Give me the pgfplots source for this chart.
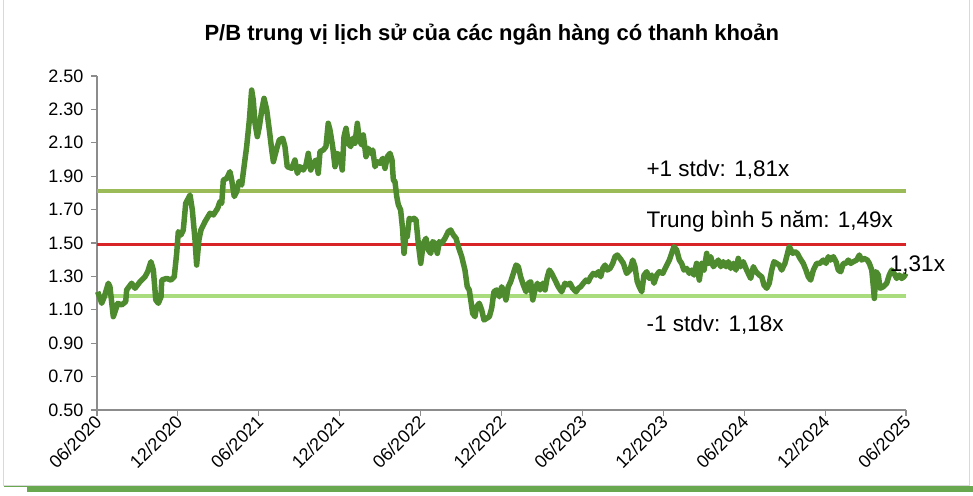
\documentclass[border=0pt]{standalone}
\usepackage{pgfplots}
\pgfplotsset{compat=1.18}
\usepackage{fontspec}
\setmainfont{Liberation Sans}

\definecolor{series}{HTML}{4E8B2E}
\definecolor{upper}{HTML}{9BBB59}
\definecolor{lower}{HTML}{A9DC7C}
\definecolor{mean}{HTML}{D92427}
\definecolor{frame}{HTML}{D9D9D9}
\definecolor{bar}{HTML}{6AA84F}

\begin{document}
\begin{tikzpicture}
\begin{axis}[
  scale only axis,
  width=809bp, height=334bp,
  xmin=0, xmax=60,
  ymin=0.5, ymax=2.5,
  clip=false,
  axis x line*=bottom,
  axis y line*=left,
  axis line style={draw=gray!90, line width=1.4bp},
  tick style={draw=gray!90, line width=1.2bp},
  tick align=outside,
  major tick length=6bp,
  xtick={0,6,...,60},
  xticklabels={06/2020,12/2020,06/2021,12/2021,06/2022,12/2022,06/2023,12/2023,06/2024,12/2024,06/2025},
  ytick={0.5,0.7,0.9,1.1,1.3,1.5,1.7,1.9,2.1,2.3,2.5},
  tick label style={font=\fontsize{18bp}{20bp}\selectfont},
  xticklabel style={rotate=45, anchor=east, yshift=-3bp, xshift=2bp},
  yticklabel style={xshift=-4bp, /pgf/number format/.cd, fixed, fixed zerofill, precision=2, assume math mode=true},
]
% mean and +/- 1 stdev
\addplot[upper, line width=4bp] coordinates {(0,1.81) (60,1.81)};
\addplot[mean, line width=3bp] coordinates {(0,1.49) (60,1.49)};
\addplot[lower, line width=4bp] coordinates {(0,1.18) (60,1.18)};

% median P/B, months since 06/2020
\addplot[series, line width=5.5bp, line join=round] table {
x y
0.05 1.208
0.35 1.139
0.54 1.178
0.84 1.259
0.96 1.238
1.21 1.059
1.54 1.139
1.83 1.129
2.13 1.149
2.20 1.219
2.57 1.259
2.82 1.229
3.19 1.268
3.56 1.298
3.76 1.328
4.00 1.388
4.18 1.338
4.36 1.159
4.55 1.139
4.75 1.178
4.80 1.278
5.17 1.288
5.49 1.278
5.73 1.298
5.91 1.438
6.03 1.568
6.23 1.548
6.40 1.578
6.58 1.738
6.90 1.787
7.07 1.698
7.27 1.518
7.39 1.368
7.56 1.518
7.71 1.578
8.01 1.628
8.38 1.678
8.63 1.668
8.95 1.708
9.12 1.748
9.25 1.738
9.37 1.877
9.62 1.887
9.86 1.927
9.99 1.877
10.18 1.778
10.36 1.808
10.53 1.868
10.73 1.847
10.97 1.997
11.10 2.077
11.30 2.237
11.47 2.416
11.59 2.356
11.72 2.217
11.89 2.137
12.04 2.196
12.22 2.296
12.39 2.366
12.59 2.296
12.78 2.177
12.96 2.057
13.08 1.987
13.37 2.077
13.52 2.117
13.77 2.127
13.94 2.077
14.11 1.957
14.44 1.947
14.68 1.997
14.86 1.917
15.06 1.957
15.30 1.937
15.50 1.967
15.67 2.037
15.85 1.937
16.04 1.977
16.24 1.997
16.41 1.917
16.54 2.047
16.78 2.057
16.98 2.077
17.15 2.217
17.28 2.177
17.48 2.077
17.65 1.957
17.82 2.037
18.02 2.017
18.19 1.937
18.32 2.137
18.47 2.187
18.64 2.097
18.82 2.077
18.96 2.127
19.13 2.097
19.31 2.217
19.45 2.117
19.63 2.087
19.75 2.147
19.95 2.017
20.12 2.067
20.30 2.037
20.45 2.057
20.62 1.957
20.79 1.987
20.99 1.977
21.19 2.007
21.36 1.947
21.53 2.017
21.73 2.037
21.88 1.997
21.98 1.877
22.10 1.868
22.23 1.778
22.35 1.728
22.52 1.698
22.67 1.578
22.77 1.438
22.92 1.558
23.01 1.538
23.16 1.648
23.34 1.638
23.51 1.648
23.66 1.638
23.83 1.498
24.01 1.378
24.20 1.498
24.40 1.528
24.57 1.458
24.75 1.438
24.90 1.508
25.07 1.498
25.24 1.438
25.39 1.508
25.56 1.498
25.81 1.528
26.05 1.568
26.23 1.578
26.43 1.548
26.63 1.528
26.80 1.478
27.05 1.418
27.29 1.338
27.46 1.238
27.61 1.219
27.72 1.159
27.86 1.079
28.03 1.059
28.16 1.119
28.35 1.139
28.53 1.099
28.70 1.039
28.90 1.049
29.10 1.059
29.27 1.109
29.44 1.208
29.64 1.219
29.84 1.178
30.01 1.238
30.19 1.208
30.33 1.159
30.50 1.238
30.68 1.268
30.88 1.318
31.08 1.368
31.25 1.358
31.42 1.298
31.62 1.248
31.82 1.208
31.99 1.259
32.17 1.268
32.32 1.159
32.48 1.219
32.66 1.259
32.86 1.219
33.06 1.259
33.23 1.219
33.40 1.298
33.55 1.338
33.72 1.318
33.97 1.278
34.21 1.238
34.46 1.208
34.71 1.259
34.88 1.248
35.08 1.259
35.28 1.229
35.53 1.208
35.70 1.229
35.87 1.238
36.07 1.259
36.27 1.278
36.44 1.268
36.62 1.298
36.81 1.318
37.01 1.308
37.18 1.328
37.36 1.298
37.51 1.348
37.68 1.368
37.85 1.338
38.05 1.348
38.25 1.378
38.42 1.418
38.59 1.428
38.79 1.408
39.04 1.378
39.28 1.318
39.53 1.338
39.73 1.398
39.90 1.358
40.07 1.268
40.22 1.238
40.40 1.208
40.57 1.308
40.77 1.328
40.96 1.288
41.14 1.308
41.31 1.259
41.51 1.308
41.70 1.328
41.96 1.318
42.20 1.358
42.45 1.398
42.62 1.438
42.79 1.478
42.99 1.458
43.19 1.398
43.36 1.378
43.53 1.338
43.73 1.348
43.93 1.318
44.10 1.338
44.27 1.308
44.47 1.378
44.67 1.278
44.85 1.378
45.02 1.338
45.22 1.438
45.34 1.378
45.52 1.418
45.71 1.358
45.91 1.378
46.08 1.398
46.26 1.358
46.45 1.388
46.65 1.358
46.82 1.388
47.00 1.348
47.19 1.378
47.39 1.338
47.56 1.408
47.74 1.358
47.93 1.388
48.13 1.348
48.30 1.318
48.48 1.288
48.68 1.358
48.87 1.328
49.12 1.308
49.30 1.298
49.47 1.248
49.67 1.229
49.86 1.259
50.04 1.338
50.21 1.388
50.41 1.378
50.60 1.368
50.78 1.338
51.02 1.378
51.15 1.418
51.34 1.478
51.60 1.438
51.77 1.448
51.94 1.438
52.14 1.408
52.38 1.378
52.58 1.338
52.75 1.298
52.93 1.278
53.13 1.338
53.38 1.378
53.62 1.378
53.87 1.398
54.07 1.378
54.24 1.418
54.41 1.398
54.61 1.418
54.81 1.388
54.98 1.338
55.16 1.328
55.35 1.378
55.55 1.378
55.72 1.398
55.90 1.378
56.09 1.388
56.34 1.398
56.54 1.428
56.71 1.398
56.89 1.408
57.13 1.398
57.28 1.378
57.46 1.338
57.58 1.238
57.65 1.168
57.78 1.328
57.95 1.308
58.07 1.229
58.32 1.238
58.57 1.259
58.76 1.308
58.94 1.338
59.11 1.318
59.31 1.288
59.50 1.308
59.68 1.288
59.85 1.298
60.00 1.318
};

% annotations
\node[anchor=west, font=\fontsize{22.5bp}{26bp}\selectfont] at (axis cs:40.5,1.937) {+1 stdv: 1,81x};
\node[anchor=west, font=\fontsize{22.5bp}{26bp}\selectfont] at (axis cs:40.5,1.626) {Trung bình 5 năm: 1,49x};
\node[anchor=west, font=\fontsize{22.5bp}{26bp}\selectfont] at (axis cs:40.5,1.009) {-1 stdv: 1,18x};
\node[anchor=west, font=\fontsize{22.5bp}{26bp}\selectfont] at (axis cs:58.55,1.368) {1,31x};

% title
\node[font=\bfseries\fontsize{22bp}{26bp}\selectfont] at (rel axis cs:0.488,1.123) {P/B trung vị lịch sử của các ngân hàng có thanh khoản};
\end{axis}

% outer frame and footer bar
\draw[frame, line width=1bp] (-93bp,410bp) -- (-93bp,-75bp) -- (872bp,-75bp) -- (872bp,410bp);
\draw[bar, line width=1.2bp] (-93bp,-76.5bp) -- (876bp,-76.5bp);
\fill[bar] (-70bp,-77bp) rectangle (876bp,-82bp);

\pgfresetboundingbox
\useasboundingbox (-97bp,-86bp) rectangle (876bp,410bp);
\end{tikzpicture}
\end{document}
